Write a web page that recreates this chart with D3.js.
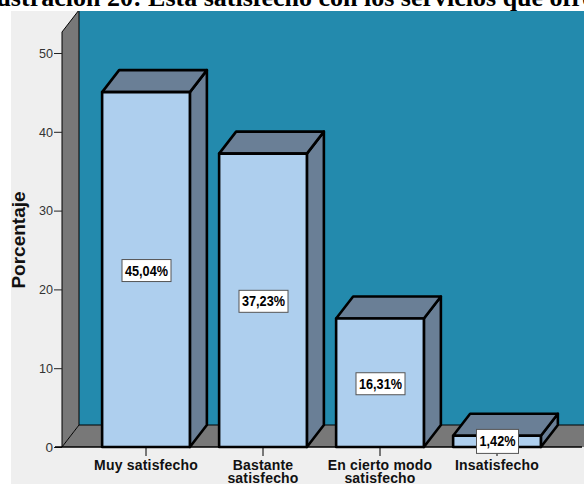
<!DOCTYPE html>
<html><head><meta charset="utf-8">
<script src="https://cdn.jsdelivr.net/npm/d3@7"></script>
<style>html,body{margin:0;padding:0;background:#fff}svg{display:block}</style>
</head><body><svg id="c" width="584" height="484"></svg>
<script>
const categories = ["Muy satisfecho", "Bastante\nsatisfecho", "En cierto modo\nsatisfecho", "Insatisfecho"];
const values = [45.04, 37.23, 16.31, 1.42];
const valueLabels = ["45,04%", "37,23%", "16,31%", "1,42%"];
const yTicks = [0, 10, 20, 30, 40, 50];
const titleText = "Ilustración 20: Esta satisfecho con los servicios que ofrece";
const yTitle = "Porcentaje";

const svg = d3.select("#c");
const W = 584, H = 484;
const depthX = 17, depthY = 22;
const y = d3.scaleLinear().domain([0, 50]).range([447, 53]);
const x = d3.scaleBand().domain(categories).range([87.5, 555.5]).paddingInner(0.25).paddingOuter(0.125);
const base = y(0);
const poly = (pts, fill, sw = 1.4) => svg.append("polygon").attr("points", pts.map(p => p.join(",")).join(" "))
  .attr("fill", fill).attr("stroke", sw ? "#000" : "none").attr("stroke-width", sw).attr("stroke-linejoin", "round");

svg.append("rect").attr("x", 11).attr("y", 11).attr("width", W - 11).attr("height", H - 11).attr("fill", "#efefef");

const wallX = 62, wallTop = 32;
svg.append("rect").attr("x", wallX + depthX).attr("y", wallTop - depthY + 1).attr("width", W).attr("height", base - depthY - wallTop + depthY - 1).attr("fill", "#238aad");
poly([[wallX, base], [wallX + depthX, base - depthY], [W + 20, base - depthY], [W + 20 - depthX - 3, base]], "#787878", 0);
poly([[wallX, wallTop], [wallX + depthX, wallTop - depthY], [wallX + depthX, base - depthY], [wallX, base]], "#787878", 0);
svg.append("path").attr("d", `M${wallX},${base}L${wallX + depthX},${base - depthY}V${wallTop - depthY}M${wallX + depthX},${base - depthY}H${W + 20}M${wallX},${base}V${wallTop}L${wallX + depthX},${wallTop - depthY}`)
  .attr("fill", "none").attr("stroke", "#000").attr("stroke-width", 1);

values.forEach((v, i) => {
  const x0 = x(categories[i]), x1 = x0 + x.bandwidth(), top = y(v);
  poly([[x1, base], [x1 + depthX, base - depthY], [x1 + depthX, top - depthY], [x1, top]], "#6a7f96", 2.6);
  poly([[x0, top], [x0 + depthX, top - depthY], [x1 + depthX, top - depthY], [x1, top]], "#6a7f96", 2.6);
  poly([[x0, base], [x0, top], [x1, top], [x1, base]], "#aecfee", 2.6);
});

const yAxis = d3.axisLeft(y).tickValues(yTicks).tickSize(8).tickPadding(1).tickSizeOuter(0);
const gy = svg.append("g").attr("transform", `translate(${wallX},0)`).call(yAxis);
gy.select(".domain").remove();
gy.selectAll("line").attr("stroke", "#222").attr("stroke-width", 1);
gy.selectAll("text").attr("font-family", "Liberation Sans").attr("font-size", 13.5).attr("fill", "#333")
  .filter(d => d > 0).attr("textLength", 14).attr("lengthAdjust", "spacingAndGlyphs");

const xAxis = d3.axisBottom(x).tickSize(9).tickSizeOuter(0).tickFormat("");
const gx = svg.append("g").attr("transform", `translate(0,${base})`).call(xAxis);
gx.select(".domain").remove();
gx.selectAll("line").attr("stroke", "#000").attr("stroke-width", 1);
svg.append("line").attr("x1", 55).attr("x2", 582).attr("y1", base).attr("y2", base).attr("stroke", "#000").attr("stroke-width", 1.6);

categories.forEach(c => {
  const t = svg.append("text").attr("text-anchor", "middle").attr("font-family", "Liberation Sans").attr("font-weight", "bold").attr("font-size", 14).attr("fill", "#111");
  c.split("\n").forEach((line, j) => t.append("tspan").attr("x", x(c) + x.bandwidth() / 2).attr("y", 470 + j * 13).attr("letter-spacing", 0.2).text(line));
});

valueLabels.forEach((s, i) => {
  const cx = x(categories[i]) + x.bandwidth() / 2;
  const cy = (y(values[i]) + base) / 2 + (i === 3 ? 0 : 1);
  const w = i === 3 ? 42 : 49, h = i === 3 ? 24 : 22;
  svg.append("rect").attr("x", cx - w / 2 + 0.5).attr("y", cy - h / 2).attr("width", w).attr("height", h).attr("fill", "#fff").attr("stroke", "#555").attr("stroke-width", 1);
  svg.append("text").attr("x", cx + 0.5).attr("y", cy + 5).attr("text-anchor", "middle").attr("font-family", "Liberation Sans").attr("font-weight", "bold").attr("font-size", 14).attr("fill", "#000").attr("textLength", w - 6).attr("lengthAdjust", "spacingAndGlyphs").text(s);
});

svg.append("text").attr("transform", "translate(25,240) rotate(-90)").attr("text-anchor", "middle").attr("font-family", "Liberation Sans").attr("font-weight", "bold").attr("font-size", 19).attr("fill", "#111").text(yTitle);

svg.append("rect").attr("x", 0).attr("y", 0).attr("width", W).attr("height", 11).attr("fill", "#fff");
svg.append("text").attr("x", 298).attr("y", 6).attr("text-anchor", "middle").attr("font-family", "Liberation Serif").attr("font-weight", "bold").attr("font-size", 26).attr("fill", "#000").text(titleText);
</script></body></html>
